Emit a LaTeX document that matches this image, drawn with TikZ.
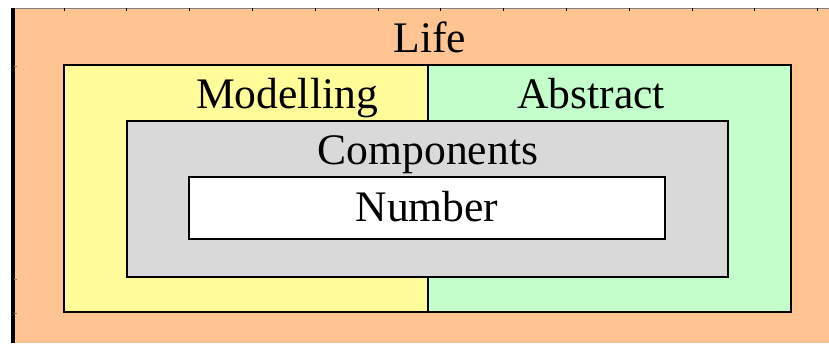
\documentclass[tikz,border=0pt]{standalone}
\usepackage{fontspec}
\setmainfont{Liberation Serif}
\definecolor{lifeorange}{RGB}{255,196,146}
\definecolor{modyellow}{RGB}{255,252,153}
\definecolor{absgreen}{RGB}{194,255,202}
\definecolor{compgray}{RGB}{217,217,217}
\begin{document}
\begin{tikzpicture}[x=0.025cm,y=-0.025cm,line join=miter,font=\fontsize{31}{37}\selectfont]
	\useasboundingbox (0,0) rectangle (829,343);
	\path
	(13,8) coordinate (L_1)
	(829,343) coordinate (L_2)
	(64,65) coordinate (M_1)
	(428,312) coordinate (M_2)
	(428,65) coordinate (A_1)
	(791,312) coordinate (A_2)
	(127,121) coordinate (C_1)
	(728,277) coordinate (C_2)
	(189,177) coordinate (N_1)
	(665,239) coordinate (N_2)
	;
	\fill[lifeorange] (L_1) rectangle (L_2);
	\draw[gray,line width=0.6pt] (L_1) -- (L_1 -| L_2);
	\draw[line width=2.2pt] (L_1) -- (L_1 |- L_2);
	\foreach \i in {0,...,12} \draw[line width=0.5pt] (64+62.8*\i,8) -- ++(0,2.5);
	\foreach \j in {66,279,313} \draw[line width=0.5pt,gray] (14,\j) -- ++(2.5,0);
	\draw[line width=0.8pt,fill=modyellow] (M_1) rectangle (M_2);
	\draw[line width=0.8pt,fill=absgreen] (A_1) rectangle (A_2);
	\draw[line width=1pt,fill=compgray] (C_1) rectangle (C_2);
	\draw[line width=1pt,fill=white] (N_1) rectangle (N_2);
	\draw[line width=1.8pt] (N_1) -- (N_1 |- N_2);
	\node[anchor=base] (life) at (430,52) {Life};
	\node[anchor=base] (modelling) at (287,108) {Modelling};
	\node[anchor=base] (abstract) at (591,108) {Abstract};
	\node[anchor=base] (components) at (428,164) {Components};
	\node[anchor=base] (number) at (427,221) {Number};
\end{tikzpicture}
\end{document}
